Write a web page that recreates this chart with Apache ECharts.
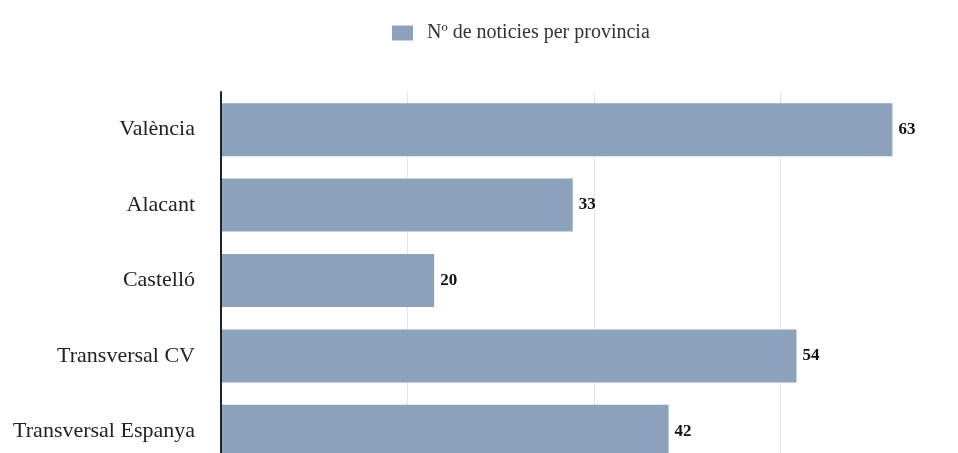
<!DOCTYPE html>
<html>
<head>
<meta charset="utf-8">
<script src="https://cdn.jsdelivr.net/npm/echarts@6/dist/echarts.min.js"></script>
<style>
  html, body { margin: 0; padding: 0; background: #fff; overflow: hidden; }
  /* the original chart runs past the right and bottom edges of the frame */
  #chart { width: 967px; height: 469px; }
</style>
</head>
<body>
<div id="chart"></div>
<script>
const provincies = ['València', 'Alacant', 'Castelló', 'Transversal CV', 'Transversal Espanya']
const noticies = [63, 33, 20, 54, 42]
const serieNom = 'Nº de noticies per provincia'

const chart = echarts.init(document.getElementById('chart'))
chart.setOption({
  textStyle: { fontFamily: 'Liberation Serif' },
  legend: {
    left: 387,
    top: 18,
    icon: 'rect',
    itemWidth: 21,
    itemHeight: 15,
    itemStyle: { borderWidth: 0 },
    textStyle: { fontSize: 20, color: '#333', padding: [0, 0, 0, 9] },
    data: [serieNom]
  },
  grid: {
    left: 221,
    right: 0,
    top: 92,
    bottom: 0,
    containLabel: false
  },
  xAxis: {
    type: 'value',
    min: 0,
    max: 70,
    interval: 17.5,
    axisLabel: { show: false },
    axisLine: { show: false },
    axisTick: { show: false },
    splitLine: { lineStyle: { color: '#e4e4e4', width: 1 } }
  },
  yAxis: {
    type: 'category',
    inverse: true,
    data: provincies,
    z: 10, // axis line sits on top of the bars
    axisTick: { show: false },
    axisLine: { lineStyle: { color: '#222', width: 2 } },
    axisLabel: { fontSize: 22, color: '#222', margin: 26 }
  },
  series: [
    {
      name: serieNom,
      type: 'bar',
      data: noticies,
      barWidth: 53,
      itemStyle: { color: '#8ba2ba' },
      label: {
        show: true,
        position: 'right',
        distance: 6,
        fontSize: 17,
        fontWeight: 'bold',
        color: '#111'
      }
    }
  ]
})
</script>
</body>
</html>
